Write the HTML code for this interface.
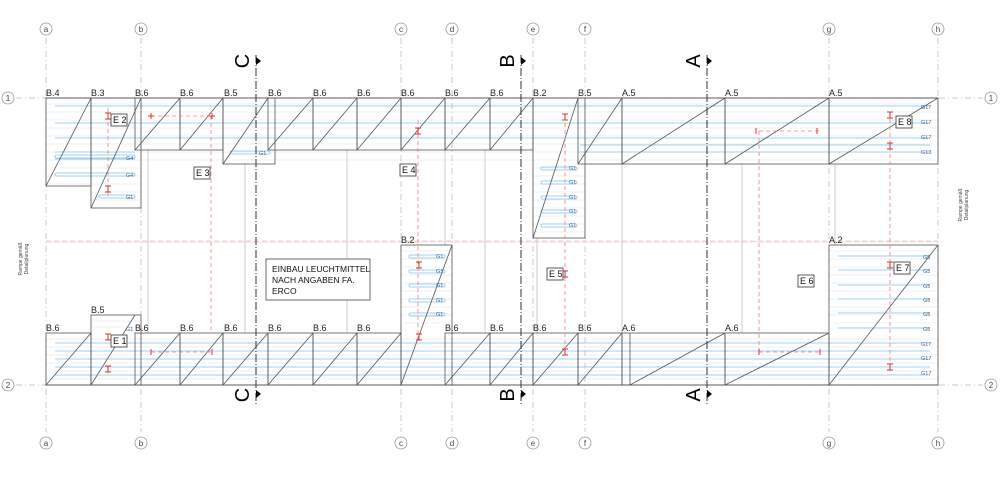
<!DOCTYPE html>
<html><head><meta charset="utf-8"><style>
html,body{margin:0;padding:0;background:#fff;}
svg{display:block;font-family:"Liberation Sans",sans-serif;}
</style></head><body>
<svg width="1000" height="490" viewBox="0 0 1000 490" xmlns="http://www.w3.org/2000/svg">
<rect width="1000" height="490" fill="#fff"/>
<!-- light grid -->
<g stroke="#e4e4e4" stroke-width="0.6">
<path d="M46 104H938M46 112H938M46 120H938M46 128H938M46 136H938M46 144H938M46 152H938M46 160H938M46 168H141M46 176H141M46 184H141M91 192H141M91 200H141M533 168H585M533 176H585M533 184H585M533 192H585M533 200H585M533 208H585M533 216H585M533 224H585M533 232H585"/>
<path d="M46 339H938M46 347H938M46 355H938M46 363H938M46 371H938M46 379H938M401 251H452M401 259H452M401 267H452M401 275H452M401 283H452M401 291H452M401 299H452M401 307H452M401 315H452M401 323H452M829 251H938M829 259H938M829 267H938M829 275H938M829 283H938M829 291H938M829 299H938M829 307H938M829 315H938M829 323H938M91 321H141M91 327H141"/>
</g>
<!-- blue lines -->
<g stroke="#9fd0f0" stroke-width="1" fill="none">
<path d="M55 106H930M55 123H930M55 138H930M55 152H135M578 152H930M55 159H135M580 145H930"/>
<path d="M55 343H930M55 351H930M55 359H930M55 367H930M55 375H930"/>
<rect x="55" y="155" width="80" height="3" rx="1.5"/><rect x="55" y="173" width="80" height="3" rx="1.5"/><rect x="99" y="195" width="36" height="3" rx="1.5"/>
<rect x="230" y="151" width="40" height="3" rx="1.5"/>
<rect x="541" y="167" width="36" height="3" rx="1.5"/><rect x="541" y="181" width="36" height="3" rx="1.5"/><rect x="541" y="196" width="36" height="3" rx="1.5"/><rect x="541" y="210" width="36" height="3" rx="1.5"/><rect x="541" y="224" width="36" height="3" rx="1.5"/>
<rect x="409" y="255" width="36" height="3" rx="1.5"/><rect x="409" y="270" width="36" height="3" rx="1.5"/><rect x="409" y="284" width="36" height="3" rx="1.5"/><rect x="409" y="299" width="36" height="3" rx="1.5"/><rect x="409" y="313" width="36" height="3" rx="1.5"/>
<path d="M838 256H930M838 270H930M838 285H930M838 299H930M838 313H930M838 328H930"/>
</g>
<!-- axis lines -->
<g stroke="#bbb" stroke-width="0.8" stroke-dasharray="6,3,1,3" fill="none">
<path d="M46 38V432M141 38V432M401 38V432M452 38V432M533 38V432M585 38V432M829 38V432M938 38V432"/>
<path d="M16 98H983M16 385H983"/>
</g>
<path d="M46 241H938" stroke="#f2b8b8" stroke-width="0.8" stroke-dasharray="5,3"/>
<path d="M46 242H938" stroke="#ddd" stroke-width="0.8"/>
<!-- grey structural verticals -->
<g stroke="#ccc" stroke-width="1"><path d="M148 150V333M245 164V333M347 150V333M445 150V245M485 150V333M537 238V333M622 164V333M742 164V333M835 164V245"/></g>
<!-- axis circles -->
<g fill="#fff" stroke="#999" stroke-width="0.8">
<circle cx="46" cy="29" r="6"/><circle cx="141" cy="29" r="6"/><circle cx="401" cy="29" r="6"/><circle cx="452" cy="29" r="6"/><circle cx="533" cy="29" r="6"/><circle cx="585" cy="29" r="6"/><circle cx="829" cy="29" r="6"/><circle cx="938" cy="29" r="6"/>
<circle cx="46" cy="443" r="6"/><circle cx="141" cy="443" r="6"/><circle cx="401" cy="443" r="6"/><circle cx="452" cy="443" r="6"/><circle cx="533" cy="443" r="6"/><circle cx="585" cy="443" r="6"/><circle cx="829" cy="443" r="6"/><circle cx="938" cy="443" r="6"/>
<circle cx="8" cy="98" r="6"/><circle cx="991" cy="98" r="6"/><circle cx="8" cy="385" r="6"/><circle cx="991" cy="385" r="6"/>
</g>
<g font-size="8" fill="#444" text-anchor="middle">
<text x="46" y="32">a</text><text x="141" y="32">b</text><text x="401" y="32">c</text><text x="452" y="32">d</text><text x="533" y="32">e</text><text x="585" y="32">f</text><text x="829" y="32">g</text><text x="938" y="32">h</text>
<text x="46" y="446">a</text><text x="141" y="446">b</text><text x="401" y="446">c</text><text x="452" y="446">d</text><text x="533" y="446">e</text><text x="585" y="446">f</text><text x="829" y="446">g</text><text x="938" y="446">h</text>
<text x="8" y="101">1</text><text x="991" y="101">1</text><text x="8" y="388">2</text><text x="991" y="388">2</text>
</g>
<!-- ramp boxes -->
<g stroke="#555" stroke-width="0.8" fill="none">
<rect x="46" y="98" width="45" height="88"/><path d="M46 186L91 98"/>
<rect x="91" y="98" width="50" height="110"/><path d="M91 208L141 98"/>
<rect x="135" y="98" width="45" height="52"/><path d="M135 150L180 98"/>
<rect x="180" y="98" width="43" height="52"/><path d="M180 150L223 98"/>
<rect x="223" y="98" width="52" height="66"/><path d="M223 164L268 98"/>
<rect x="268" y="98" width="45" height="52"/><path d="M268 150L313 98"/>
<rect x="313" y="98" width="44" height="52"/><path d="M313 150L357 98"/>
<rect x="357" y="98" width="44" height="52"/><path d="M357 150L401 98"/>
<rect x="401" y="98" width="44" height="52"/><path d="M401 150L445 98"/>
<rect x="445" y="98" width="45" height="52"/><path d="M445 150L490 98"/>
<rect x="490" y="98" width="43" height="52"/><path d="M490 150L533 98"/>
<rect x="533" y="98" width="52" height="140"/><path d="M533 238L578 98"/>
<rect x="578" y="98" width="44" height="66"/><path d="M578 164L622 98"/>
<rect x="622" y="98" width="103" height="66"/><path d="M622 164L725 98"/>
<rect x="725" y="98" width="104" height="66"/><path d="M725 164L829 98"/>
<rect x="829" y="98" width="109" height="66"/><path d="M829 164L938 98"/>
<path d="M46 98H938"/>
<rect x="46" y="333" width="45" height="52"/><path d="M46 385L91 333"/>
<rect x="91" y="315" width="50" height="70"/><path d="M91 385L135 315"/>
<rect x="135" y="333" width="45" height="52"/><path d="M135 385L180 333"/>
<rect x="180" y="333" width="43" height="52"/><path d="M180 385L223 333"/>
<rect x="223" y="333" width="45" height="52"/><path d="M223 385L268 333"/>
<rect x="268" y="333" width="45" height="52"/><path d="M268 385L313 333"/>
<rect x="313" y="333" width="44" height="52"/><path d="M313 385L357 333"/>
<rect x="357" y="333" width="44" height="52"/><path d="M357 385L401 333"/>
<rect x="401" y="245" width="51" height="140"/><path d="M401 385L452 245"/>
<rect x="445" y="333" width="45" height="52"/><path d="M445 385L490 333"/>
<rect x="490" y="333" width="43" height="52"/><path d="M490 385L533 333"/>
<rect x="533" y="333" width="45" height="52"/><path d="M533 385L578 333"/>
<rect x="578" y="333" width="44" height="52"/><path d="M578 385L622 333"/>
<rect x="622" y="333" width="103" height="52"/><path d="M622 385L630 385L725 333M630 333V385"/>
<rect x="725" y="333" width="104" height="52"/><path d="M725 385L829 333"/>
<rect x="829" y="245" width="109" height="140"/><path d="M829 385L938 245"/>
<path d="M46 385H938"/>
</g>
<!-- section lines -->
<g stroke="#333" stroke-width="1" stroke-dasharray="8,2,1,2"><path d="M256 55V405M521 55V405M707 55V405"/></g>
<g fill="#000">
<path d="M256 57l5 4-5 4z"/><path d="M521 57l5 4-5 4z"/><path d="M707 57l5 4-5 4z"/>
<path d="M256 390l5 4-5 4z"/><path d="M521 390l5 4-5 4z"/><path d="M707 390l5 4-5 4z"/>
</g>
<g font-size="20" fill="#000" text-anchor="middle">
<text transform="translate(242,61) rotate(-90)" dy="7">C</text>
<text transform="translate(507,61) rotate(-90)" dy="7">B</text>
<text transform="translate(693,61) rotate(-90)" dy="7">A</text>
<text transform="translate(242,395) rotate(-90)" dy="7">C</text>
<text transform="translate(507,395) rotate(-90)" dy="7">B</text>
<text transform="translate(693,395) rotate(-90)" dy="7">A</text>
</g>
<!-- red dashed -->
<g stroke="#f08080" stroke-width="0.8" stroke-dasharray="4,3" fill="none">
<path d="M108 108V198M211 116V330M418 120V340M565 116V352M759 131V352M890 112V370M151 116H212M151 352H212M759 131H820M759 352H820"/>
</g>
<g stroke="#e03030" stroke-width="1" fill="none">
<path d="M105 113h6M108 113v6M105 119h6M105 186h6M108 186v6M105 192h6M151 113v6M212 113v6M148 116h6M209 116h6M415 128h6M418 128v6M415 134h6M562 114h6M565 114v6M562 120h6M562 271h6M565 271v6M562 277h6M416 262h6M416 268h6M419 262v6M416 334h6M416 340h6M419 334v6M105 334h6M105 340h6M108 334v6M105 366h6M105 372h6M108 366v6M151 349v6M212 349v6M759 349v6M820 349v6M756 128v6M817 128v6M562 349h6M562 355h6M565 349v6M887 112h6M887 118h6M890 112v6M887 143h6M887 149h6M890 143v6M887 262h6M887 268h6M890 262v6M887 364h6M887 370h6M890 364v6"/>
</g>
<!-- module labels -->
<g font-size="9" fill="#222">
<text x="46" y="96">B.4</text><text x="91" y="96">B.3</text><text x="135" y="96">B.6</text><text x="180" y="96">B.6</text><text x="224" y="96">B.5</text><text x="268" y="96">B.6</text><text x="313" y="96">B.6</text><text x="357" y="96">B.6</text><text x="401" y="96">B.6</text><text x="445" y="96">B.6</text><text x="490" y="96">B.6</text><text x="533" y="96">B.2</text><text x="578" y="96">B.5</text><text x="622" y="96">A.5</text><text x="725" y="96">A.5</text><text x="829" y="96">A.5</text>
<text x="46" y="331">B.6</text><text x="91" y="313">B.5</text><text x="135" y="331">B.6</text><text x="180" y="331">B.6</text><text x="224" y="331">B.6</text><text x="268" y="331">B.6</text><text x="313" y="331">B.6</text><text x="357" y="331">B.6</text><text x="401" y="243">B.2</text><text x="445" y="331">B.6</text><text x="490" y="331">B.6</text><text x="533" y="331">B.6</text><text x="578" y="331">B.6</text><text x="622" y="331">A.6</text><text x="725" y="331">A.6</text><text x="829" y="243">A.2</text>
</g>
<!-- small G labels -->
<g font-size="5.5" fill="#3a6a9a">
<text x="126" y="160">G4</text><text x="126" y="177">G4</text><text x="126" y="199">G1</text><text x="259" y="155">G1</text><text x="126" y="331">G1</text>
<text x="569" y="170">G1</text><text x="569" y="184">G1</text><text x="569" y="199">G1</text><text x="569" y="213">G1</text><text x="569" y="227">G1</text>
<text x="436" y="258">G1</text><text x="436" y="273">G1</text><text x="436" y="287">G1</text><text x="436" y="302">G1</text><text x="436" y="316">G1</text>
<text x="921" y="109">G17</text><text x="921" y="124">G17</text><text x="921" y="139">G17</text><text x="921" y="154">G13</text>
<text x="923" y="259">G5</text><text x="923" y="273">G5</text><text x="923" y="288">G5</text><text x="923" y="302">G5</text><text x="923" y="316">G5</text><text x="923" y="331">G5</text><text x="921" y="346">G17</text><text x="921" y="360">G17</text><text x="921" y="375">G17</text>
</g>
<!-- E labels -->
<g font-size="9" fill="#111">
<rect x="111" y="114" width="16" height="12" fill="#fff" stroke="#333" stroke-width="0.8"/><text x="113" y="123">E 2</text>
<rect x="194" y="167" width="16" height="12" fill="#fff" stroke="#333" stroke-width="0.8"/><text x="196" y="176">E 3</text>
<rect x="400" y="164" width="16" height="12" fill="#fff" stroke="#333" stroke-width="0.8"/><text x="402" y="173">E 4</text>
<rect x="547" y="268" width="16" height="12" fill="#fff" stroke="#333" stroke-width="0.8"/><text x="549" y="277">E 5</text>
<rect x="798" y="275" width="16" height="12" fill="#fff" stroke="#333" stroke-width="0.8"/><text x="800" y="284">E 6</text>
<rect x="896" y="116" width="16" height="12" fill="#fff" stroke="#333" stroke-width="0.8"/><text x="898" y="125">E 8</text>
<rect x="894" y="262" width="16" height="12" fill="#fff" stroke="#333" stroke-width="0.8"/><text x="896" y="271">E 7</text>
<rect x="111" y="335" width="16" height="12" fill="#fff" stroke="#333" stroke-width="0.8"/><text x="113" y="344">E 1</text>
</g>
<rect x="266" y="259" width="104" height="41" fill="#fff" stroke="#444" stroke-width="0.8"/>
<g font-size="8.5" fill="#111"><text x="272" y="272">EINBAU LEUCHTMITTEL</text><text x="272" y="283">NACH ANGABEN FA.</text><text x="272" y="294">ERCO</text></g>
<g font-size="5" fill="#444" text-anchor="middle">
<text transform="translate(22,259) rotate(-90)">Rampe gemäß</text><text transform="translate(28,259) rotate(-90)">Detailplanung</text>
<text transform="translate(962,205) rotate(-90)">Rampe gemäß</text><text transform="translate(968,205) rotate(-90)">Detailplanung</text>
</g>
</svg>
</body></html>
